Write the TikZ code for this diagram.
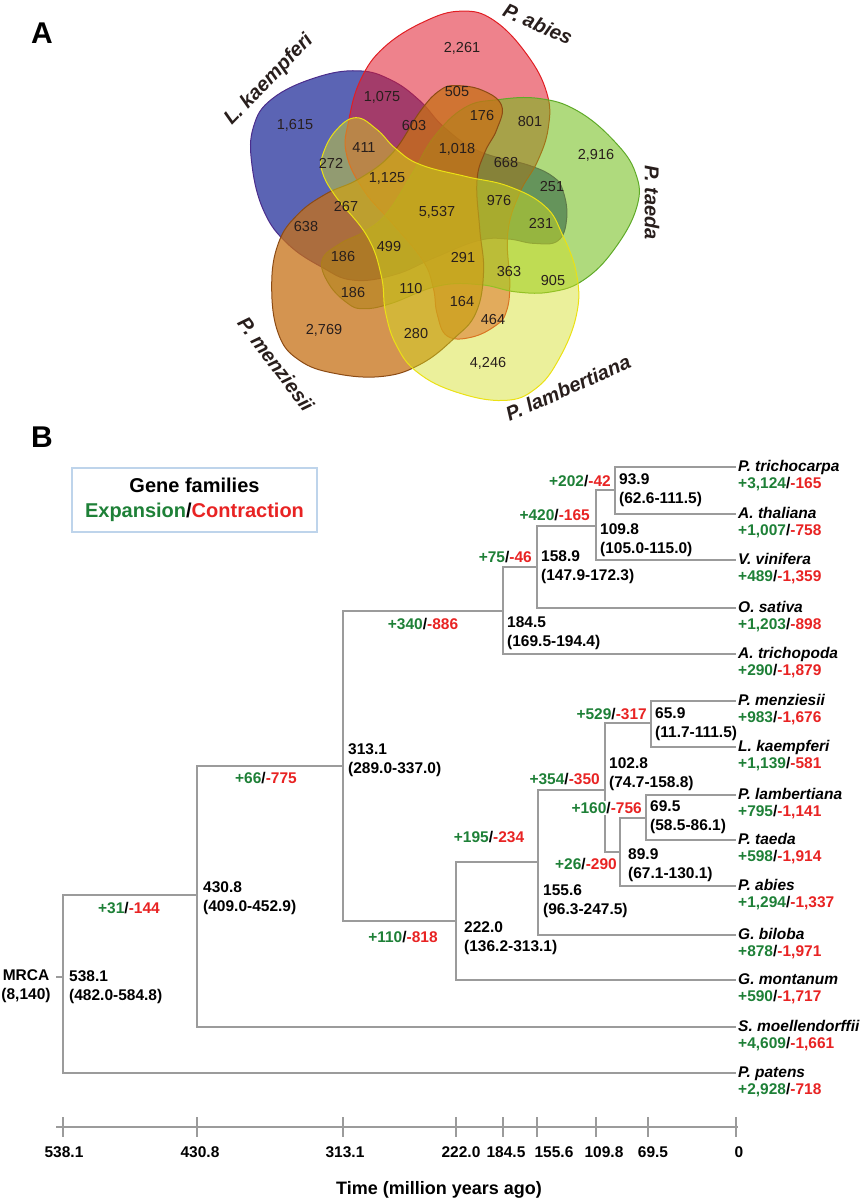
\documentclass[tikz,border=0pt]{standalone}
\usepackage{fontspec}
\setmainfont{Liberation Sans}
\usetikzlibrary{positioning}

\definecolor{gaincol}{RGB}{30,128,55}
\definecolor{losscol}{RGB}{232,35,35}
\definecolor{branchgray}{RGB}{155,155,155}
\definecolor{legendblue}{RGB}{190,212,235}
\definecolor{numcol}{RGB}{40,30,28}
\definecolor{kblue}{RGB}{22,34,148}
\definecolor{kblueline}{RGB}{75,45,140}
\definecolor{ared}{RGB}{224,28,46}
\definecolor{aredline}{RGB}{225,30,35}
\definecolor{tgreen}{RGB}{110,188,19}
\definecolor{tgreenline}{RGB}{95,170,40}
\definecolor{morange}{RGB}{198,112,22}
\definecolor{morangeline}{RGB}{140,75,20}
\definecolor{lyellow}{RGB}{211,222,33}
\definecolor{lyellowline}{RGB}{235,225,20}

\newcommand{\gainloss}[2]{\textcolor{gaincol}{+#1}/\textcolor{losscol}{-#2}}

\begin{document}
\begin{tikzpicture}[x=1pt,y=-1pt,
  panel/.style={font=\bfseries\fontsize{30}{30}\selectfont},
  num/.style={font=\fontsize{14.5}{17}\selectfont, text=numcol},
  sp/.style={font=\bfseries\itshape\fontsize{20}{24}\selectfont, text=numcol},
  br/.style={draw=branchgray, line width=2.4pt},
  gl/.style={font=\bfseries\fontsize{15.5}{19}\selectfont, inner sep=1pt},
  age/.style={font=\bfseries\fontsize{15.5}{19}\selectfont, align=left, anchor=west, inner sep=0pt},
  tip/.style={font=\bfseries\itshape\fontsize{15.5}{19}\selectfont, anchor=west, inner sep=2pt, text height=11pt, text depth=3pt},
  cnt/.style={font=\bfseries\fontsize{15.5}{19}\selectfont, anchor=west, inner sep=2pt},
  tick/.style={font=\bfseries\fontsize{15.5}{19}\selectfont},
  legbox/.style={draw=legendblue, line width=1.5pt, align=center, minimum width=245pt, minimum height=64pt, font=\bfseries\fontsize{20}{25}\selectfont}]
\useasboundingbox (0,0) rectangle (867,1202);

% A: five-set Venn
\node[panel] (labA) at (42,33) {A};
\begin{scope}[shift={(437,212)}, scale=0.95]
  \foreach \ang/\fc/\dc/\op in {-72/kblue/kblueline/0.7, -144/ared/aredline/0.55, 144/tgreen/tgreenline/0.55, 0/morange/morangeline/0.75, 72/lyellow/lyellowline/0.45}
    \draw[rotate=\ang, fill=\fc, draw=\dc, fill opacity=\op, line width=1pt]
      plot[smooth cycle, tension=0.7] coordinates {(20,-133) (48,-128) (68,-112) (63,-87) (50,-62) (42,-32) (45,18) (49,63) (41,106) (18,133) (-17,160) (-57,173) (-107,170) (-145,156) (-167,128) (-174,78) (-167,33) (-147,3) (-117,-19) (-82,-35) (-47,-62) (-17,-107) (3,-128)};
\end{scope}

\node[num] (v1) at (382,97) {1,075};
\node[num] (v2) at (295,125) {1,615};
\node[num] (v3) at (414,126) {603};
\node[num] (v4) at (364,148) {411};
\node[num] (v5) at (331,163) {272};
\node[num] (v6) at (387,178) {1,125};
\node[num] (v7) at (346,207) {267};
\node[num] (v8) at (437,212) {5,537};
\node[num] (v9) at (306,227) {638};
\node[num] (v10) at (389,247) {499};
\node[num] (v11) at (343,257) {186};
\node[num] (v12) at (353,293) {186};
\node[num] (v13) at (411,289) {110};
\node[num] (v14) at (324,330) {2,769};
\node[num] (v15) at (416,334) {280};
\node[num] (v16) at (462,48) {2,261};
\node[num] (v17) at (457,92) {505};
\node[num] (v18) at (482,116) {176};
\node[num] (v19) at (530,122) {801};
\node[num] (v20) at (457,149) {1,018};
\node[num] (v21) at (506,163) {668};
\node[num] (v22) at (596,155) {2,916};
\node[num] (v23) at (552,187) {251};
\node[num] (v24) at (499,201) {976};
\node[num] (v25) at (541,224) {231};
\node[num] (v26) at (463,258) {291};
\node[num] (v27) at (509,272) {363};
\node[num] (v28) at (553,281) {905};
\node[num] (v29) at (462,302) {164};
\node[num] (v30) at (493,320) {464};
\node[num] (v31) at (488,363) {4,246};

\node[sp, rotate=46] (sLk) at (269,80) {L. kaempferi};
\node[sp, rotate=-24] (sPa) at (538,24) {P. abies};
\node[sp, rotate=-90] (sPt) at (652,203) {P. taeda};
\node[sp, rotate=24] (sPl) at (568,388) {P. lambertiana};
\node[sp, rotate=-53] (sPm) at (276,364) {P. menziesii};

% B: tree
\node[panel] (labB) at (42,437) {B};
\node[legbox] (legend) at (194.5,500) {Gene families\\\textcolor{gaincol}{Expansion}/\textcolor{losscol}{Contraction}};

\coordinate (root) at (56,977);
\coordinate (n538) at (63,977);
\coordinate (n430) at (197,895);
\coordinate (n313) at (343,766);
\coordinate (n184) at (503,611);
\coordinate (n158) at (537,567);
\coordinate (n109) at (596,526);
\coordinate (n93) at (615,490);
\coordinate (n222) at (456,921);
\coordinate (n155) at (538,862);
\coordinate (n102) at (605,790);
\coordinate (n65) at (651,723);
\coordinate (n89) at (620,852);
\coordinate (n69) at (646,818);

\node[tip] (ptri) at (736,467) {P. trichocarpa};
\node[tip] (atha) at (736,514) {A. thaliana};
\node[tip] (vvin) at (736,560) {V. vinifera};
\node[tip] (osat) at (736,608) {O. sativa};
\node[tip] (atri) at (736,654) {A. trichopoda};
\node[tip] (pmen) at (736,701) {P. menziesii};
\node[tip] (lkae) at (736,747) {L. kaempferi};
\node[tip] (plam) at (736,795) {P. lambertiana};
\node[tip] (ptae) at (736,840) {P. taeda};
\node[tip] (pabi) at (736,886) {P. abies};
\node[tip] (gbil) at (736,935) {G. biloba};
\node[tip] (gmon) at (736,980) {G. montanum};
\node[tip] (smoe) at (736,1027) {S. moellendorffii};
\node[tip] (ppat) at (736,1073) {P. patens};

\node[cnt] (cptri) at (736,484) {\gainloss{3,124}{165}};
\node[cnt] (catha) at (736,531) {\gainloss{1,007}{758}};
\node[cnt] (cvvin) at (736,577) {\gainloss{489}{1,359}};
\node[cnt] (cosat) at (736,625) {\gainloss{1,203}{898}};
\node[cnt] (catri) at (736,671) {\gainloss{290}{1,879}};
\node[cnt] (cpmen) at (736,718) {\gainloss{983}{1,676}};
\node[cnt] (clkae) at (736,764) {\gainloss{1,139}{581}};
\node[cnt] (cplam) at (736,812) {\gainloss{795}{1,141}};
\node[cnt] (cptae) at (736,857) {\gainloss{598}{1,914}};
\node[cnt] (cpabi) at (736,903) {\gainloss{1,294}{1,337}};
\node[cnt] (cgbil) at (736,952) {\gainloss{878}{1,971}};
\node[cnt] (cgmon) at (736,997) {\gainloss{590}{1,717}};
\node[cnt] (csmoe) at (736,1044) {\gainloss{4,609}{1,661}};
\node[cnt] (cppat) at (736,1090) {\gainloss{2,928}{718}};

\draw[br] (root) -- (n538);
\draw[br] (n538) |- (n430);
\draw[br] (n538) |- (ppat.west);
\draw[br] (n430) |- (n313);
\draw[br] (n430) |- (smoe.west);
\draw[br] (n313) |- (n184);
\draw[br] (n313) |- (n222);
\draw[br] (n184) |- (n158);
\draw[br] (n184) |- (atri.west);
\draw[br] (n158) |- (n109);
\draw[br] (n158) |- (osat.west);
\draw[br] (n109) |- (n93);
\draw[br] (n109) |- (vvin.west);
\draw[br] (n93) |- (ptri.west);
\draw[br] (n93) |- (atha.west);
\draw[br] (n222) |- (n155);
\draw[br] (n222) |- (gmon.west);
\draw[br] (n155) |- (n102);
\draw[br] (n155) |- (gbil.west);
\draw[br] (n102) |- (n65);
\draw[br] (n102) |- (n89);
\draw[br] (n65) |- (pmen.west);
\draw[br] (n65) |- (lkae.west);
\draw[br] (n89) |- (n69);
\draw[br] (n89) |- (pabi.west);
\draw[br] (n69) |- (plam.west);
\draw[br] (n69) |- (ptae.west);

% ages with intervals
\node[align=center, font=\bfseries\fontsize{15.5}{19}\selectfont, inner sep=0pt] (mrca) at (26,986) {MRCA\\(8,140)};
\node[age] (a5381) at (69,987) {538.1\\(482.0-584.8)};
\node[age] (a4308) at (203,898) {430.8\\(409.0-452.9)};
\node[age] (a3131) at (348,760.5) {313.1\\(289.0-337.0)};
\node[age] (a2220) at (464,938) {222.0\\(136.2-313.1)};
\node[age] (a1845) at (507,633.5) {184.5\\(169.5-194.4)};
\node[age] (a1589) at (541,567.5) {158.9\\(147.9-172.3)};
\node[age] (a1556) at (543,901) {155.6\\(96.3-247.5)};
\node[age] (a1098) at (600,540.5) {109.8\\(105.0-115.0)};
\node[age] (a1028) at (609,774.5) {102.8\\(74.7-158.8)};
\node[age] (a939) at (619,490.5) {93.9\\(62.6-111.5)};
\node[age] (a899) at (628,865) {89.9\\(67.1-130.1)};
\node[age] (a695) at (650,817.5) {69.5\\(58.5-86.1)};
\node[age] (a659) at (655,724) {65.9\\(11.7-111.5)};

% branch gains/losses
\node[gl, anchor=east] (g202) at (612,481) {\gainloss{202}{42}};
\node[gl, anchor=east] (g420) at (591,515) {\gainloss{420}{165}};
\node[gl, anchor=east] (g75) at (533,557) {\gainloss{75}{46}};
\node[gl] (g340) at (423,624) {\gainloss{340}{886}};
\node[gl] (g66) at (266,778) {\gainloss{66}{775}};
\node[gl] (g31) at (129,908) {\gainloss{31}{144}};
\node[gl] (g110) at (403,937) {\gainloss{110}{818}};
\node[gl] (g195) at (489,837) {\gainloss{195}{234}};
\node[gl, anchor=east] (g354) at (601,779) {\gainloss{354}{350}};
\node[gl, anchor=east] (g529) at (648,714) {\gainloss{529}{317}};
\node[gl, anchor=east, fill=white] (g160) at (643,808) {\gainloss{160}{756}};
\node[gl, anchor=east] (g26) at (618,864) {\gainloss{26}{290}};

% time axis
\draw[br] (56,1127) -- (738,1127);
\foreach \x in {63,197,343,456,503,537,596,648,736}
  \draw[br] (\x,1117) -- (\x,1137);
\foreach \x/\t [count=\i] in {64/538.1, 200/430.8, 345/313.1, 461/222.0, 506/184.5, 554/155.6, 604/109.8, 653/69.5, 739/0}
  \node[tick] (tk\i) at (\x,1152) {\t};
\node[font=\bfseries\fontsize{18}{22}\selectfont] (taxis) at (439,1190) {Time (million years ago)};
\end{tikzpicture}
\end{document}
